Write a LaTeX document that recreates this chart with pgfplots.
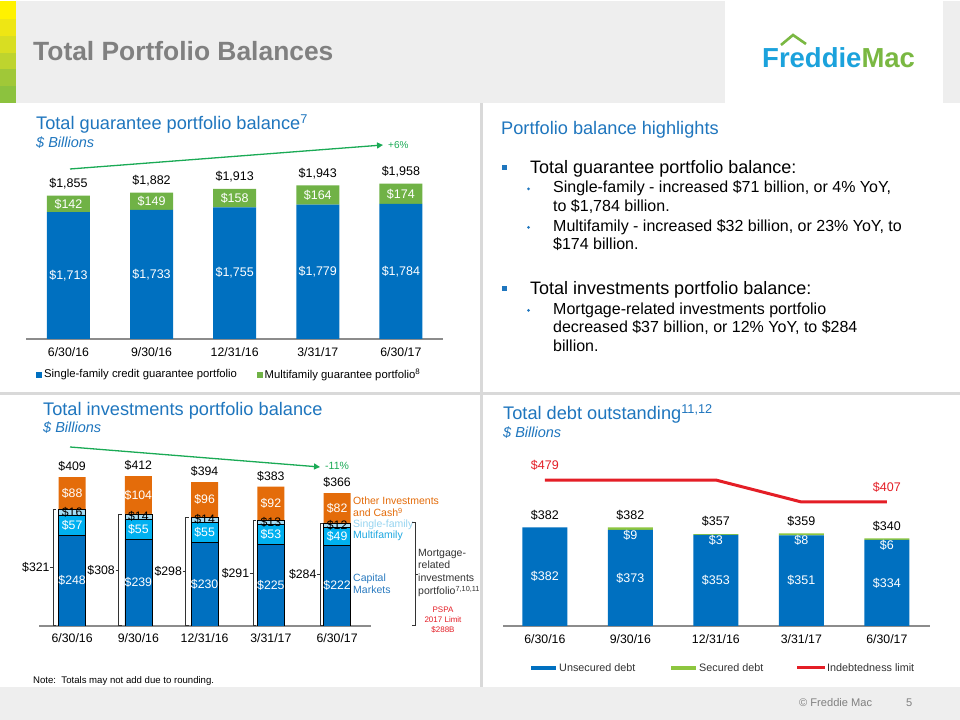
\documentclass[border=0pt]{standalone}
\usepackage{pgfplots}
\pgfplotsset{compat=1.18}
\usepackage{fontspec}
\setmainfont{Liberation Sans}
\usetikzlibrary{arrows.meta}
\definecolor{fmblue}{RGB}{0,112,192}
\definecolor{fmgreen}{RGB}{112,178,70}
\definecolor{ltblue}{RGB}{0,176,240}
\definecolor{paleblue}{RGB}{166,220,244}
\definecolor{fmorange}{RGB}{228,108,10}
\definecolor{titleblue}{RGB}{31,118,190}
\definecolor{hdrgray}{RGB}{238,238,238}
\definecolor{divgray}{RGB}{217,217,217}
\definecolor{arrowgreen}{RGB}{26,170,85}
\definecolor{limred}{RGB}{228,30,38}
\definecolor{secgreen}{RGB}{141,198,63}
\definecolor{logoblue}{RGB}{27,162,220}
\definecolor{logogreen}{RGB}{122,184,66}
\definecolor{sfblue}{RGB}{150,212,240}
\definecolor{mfblue}{RGB}{30,168,225}
\definecolor{cmblue}{RGB}{43,123,192}
\definecolor{titlegray}{RGB}{128,128,128}
\definecolor{strA}{RGB}{255,242,0}
\definecolor{strB}{RGB}{238,230,20}
\definecolor{strC}{RGB}{216,222,34}
\definecolor{strD}{RGB}{190,212,46}
\definecolor{strE}{RGB}{160,200,56}
\definecolor{strF}{RGB}{140,194,62}
\newcommand{\fs}[2]{\fontsize{#1bp}{#2bp}\selectfont}
\pgfplotsset{
  tlgeom/.style={at={(26bp,381bp)}, anchor=south west, scale only axis, width=417bp, height=169.5bp,
    xmin=-0.511, xmax=4.507, ymin=625, ymax=2080},
  blgeom/.style={at={(39bp,94bp)}, anchor=south west, scale only axis, width=331.9bp, height=156.5bp,
    xmin=-0.5, xmax=4.51, ymin=0, ymax=430},
  brgeom/.style={at={(503bp,94bp)}, anchor=south west, scale only axis, width=426.6bp, height=154.8bp,
    xmin=-0.49, xmax=4.5, ymin=0, ymax=600},
  overlay axis/.style={hide axis, clip=false},
}

\begin{document}
\begin{tikzpicture}
\begin{scope}[x=1bp,y=1bp]
\useasboundingbox (0,0) rectangle (960,720);
\fill[white] (0,0) rectangle (960,720);
% header
\fill[hdrgray] (0,617) rectangle (960,718.5);
\fill[white] (725,617) rectangle (943,720);
\fill[strA] (0,701) rectangle (16,718.5);
\fill[strB] (0,684) rectangle (16,701);
\fill[strC] (0,667) rectangle (16,684);
\fill[strD] (0,651) rectangle (16,667);
\fill[strE] (0,634) rectangle (16,651);
\fill[strF] (0,617) rectangle (16,634);
\node[anchor=base west, text=titlegray, font=\fs{26.4}{30}\bfseries, inner sep=0pt] at (33,659) {Total Portfolio Balances};
% logo
\node[anchor=base west, font=\fs{27.5}{30}\bfseries, inner sep=0pt] at (762,652) {\textcolor{logoblue}{Freddie}\textcolor{logogreen}{Mac}};
\draw[logogreen, line width=2.6bp, line join=miter] (781,675) -- (793,685) -- (806,676);
% dividers
\fill[divgray] (0,325) rectangle (960,328);
\fill[divgray] (480,33) rectangle (483,617);
% footer
\fill[hdrgray] (0,0) rectangle (960,33);
\node[anchor=base west, text=titlegray, font=\fs{11.1}{13}, inner sep=0pt] at (799,13) {\textcopyright\ Freddie Mac};
\node[anchor=base west, text=titlegray, font=\fs{11.1}{13}, inner sep=0pt] at (906,13) {5};
\node[anchor=base west, font=\fs{9.6}{11}, inner sep=0pt] at (33,36) {Note:\ \ Totals may not add due to rounding.};

% top-left titles
\node[anchor=base west, text=titleblue, font=\fs{18.2}{20}, inner sep=0pt] at (36,590) {Total guarantee portfolio balance\textsuperscript{7}};
\node[anchor=base west, text=titleblue, font=\fs{14.5}{16}\itshape, inner sep=0pt] at (36,572) {\$ Billions};
\draw[arrowgreen, line width=1.3bp, -{Triangle[length=6bp,width=6bp]}] (70,551) -- (383,575);
\node[anchor=west, text=arrowgreen, font=\fs{10}{12}, inner sep=0pt] at (388,575) {+6\%};
% top-left legend
\fill[fmblue] (36,342) rectangle (42,348);
\node[anchor=west, font=\fs{11.3}{13}, inner sep=0pt] at (44,345) {Single-family credit guarantee portfolio};
\fill[fmgreen] (257,342) rectangle (263,348);
\node[anchor=west, font=\fs{11.3}{13}, inner sep=0pt] at (264.5,345) {Multifamily guarantee portfolio\textsuperscript{8}};

% top-right text
\node[anchor=base west, text=titleblue, font=\fs{18.2}{20}, inner sep=0pt] at (501,585) {Portfolio balance highlights};
\fill[titleblue] (502,549.5) rectangle (507,554.5);
\node[anchor=base west, font=\fs{18}{20}, inner sep=0pt] at (530,546) {Total guarantee portfolio balance:};
\fill[titleblue] (528.5,531) circle (1.5);
\node[anchor=base west, font=\fs{16}{18}, inner sep=0pt] at (553,527) {Single-family - increased \$71 billion, or 4\% YoY,};
\node[anchor=base west, font=\fs{16}{18}, inner sep=0pt] at (553,508) {to \$1,784 billion.};
\fill[titleblue] (528.5,492.5) circle (1.5);
\node[anchor=base west, font=\fs{16}{18}, inner sep=0pt] at (553,488) {Multifamily - increased \$32 billion, or 23\% YoY, to};
\node[anchor=base west, font=\fs{16}{18}, inner sep=0pt] at (553,470) {\$174 billion.};
\fill[titleblue] (502,428.5) rectangle (507,433.5);
\node[anchor=base west, font=\fs{18}{20}, inner sep=0pt] at (530,425) {Total investments portfolio balance:};
\fill[titleblue] (528.5,409.5) circle (1.5);
\node[anchor=base west, font=\fs{16}{18}, inner sep=0pt] at (553,405) {Mortgage-related investments portfolio};
\node[anchor=base west, font=\fs{16}{18}, inner sep=0pt] at (553,387) {decreased \$37 billion, or 12\% YoY, to \$284};
\node[anchor=base west, font=\fs{16}{18}, inner sep=0pt] at (553,368) {billion.};

% bottom-left titles
\node[anchor=base west, text=titleblue, font=\fs{18.2}{20}, inner sep=0pt] at (43,304) {Total investments portfolio balance};
\node[anchor=base west, text=titleblue, font=\fs{14.5}{16}\itshape, inner sep=0pt] at (43,287) {\$ Billions};
\draw[arrowgreen, line width=1.3bp, -{Triangle[length=6bp,width=6bp]}] (70,273) -- (320,253);
\node[anchor=west, text=arrowgreen, font=\fs{10.5}{12}, inner sep=0pt] at (325,254) {-11\%};
% bottom-left annotations
\node[anchor=base west, text=fmorange, font=\fs{10.5}{12}, inner sep=0pt] at (353,215) {Other\ Investments};
\node[anchor=base west, text=fmorange, font=\fs{10.5}{12}, inner sep=0pt] at (353,203) {and Cash\textsuperscript{9}};
\node[anchor=base west, text=sfblue, font=\fs{10.5}{12}, inner sep=0pt] at (353,192) {Single-family};
\node[anchor=base west, text=mfblue, font=\fs{10.5}{12}, inner sep=0pt] at (353,181) {Multifamily};
\node[anchor=base west, text=cmblue, font=\fs{10.5}{12}, inner sep=0pt] at (353,138) {Capital};
\node[anchor=base west, text=cmblue, font=\fs{10.5}{12}, inner sep=0pt] at (353,126) {Markets};
\node[anchor=base west, text=black!80, font=\fs{10.5}{12}, inner sep=0pt] at (418,163) {Mortgage-};
\node[anchor=base west, text=black!80, font=\fs{10.5}{12}, inner sep=0pt] at (418,151) {related};
\node[anchor=base west, text=black!80, font=\fs{10.5}{12}, inner sep=0pt] at (418,138) {investments};
\node[anchor=base west, text=black!80, font=\fs{10.5}{12}, inner sep=0pt] at (418,125) {portfolio\textsuperscript{7,10,11}};
\node[anchor=base, text=limred, font=\fs{8}{9}, inner sep=0pt] at (443,107) {PSPA};
\node[anchor=base, text=limred, font=\fs{8}{9}, inner sep=0pt] at (443,97) {2017 Limit};
\node[anchor=base, text=limred, font=\fs{8}{9}, inner sep=0pt] at (443,87) {\$288B};

% bottom-right titles
\node[anchor=base west, text=titleblue, font=\fs{18.2}{20}, inner sep=0pt] at (503,300) {Total debt outstanding\textsuperscript{11,12}};
\node[anchor=base west, text=titleblue, font=\fs{14.5}{16}\itshape, inner sep=0pt] at (503,282) {\$ Billions};
% bottom-right legend
\fill[fmblue] (531,50) rectangle (556,54);
\node[anchor=west, text=black!80, font=\fs{10.8}{12}, inner sep=0pt] at (559,52) {Unsecured debt};
\fill[secgreen] (671,50) rectangle (696,54);
\node[anchor=west, text=black!80, font=\fs{10.8}{12}, inner sep=0pt] at (699,52) {Secured debt};
\draw[limred, line width=3bp] (797,52) -- (825,52);
\node[anchor=west, text=black!80, font=\fs{10.8}{12}, inner sep=0pt] at (827,52) {Indebtedness limit};
\end{scope}

% ---------------- top-left chart ----------------
\begin{axis}[
  tlgeom,
  ybar stacked, bar width=43bp,
  axis y line=none, axis x line*=bottom,
  x axis line style={draw=black!45, line width=1.1bp, -},
  xtick=data, xticklabels={6/30/16,9/30/16,12/31/16,3/31/17,6/30/17},
  major tick length=0pt,
  xticklabel style={font=\fs{12.3}{14}, yshift=-5bp},
]
\addplot[fill=fmblue, draw=none] coordinates {(0,1713)(1,1733)(2,1755)(3,1779)(4,1784)};
\addplot[fill=fmgreen, draw=none] coordinates {(0,142)(1,149)(2,158)(3,164)(4,174)};
\end{axis}
\begin{axis}[tlgeom, overlay axis]
\node[anchor=base, font=\fs{12.5}{14}, yshift=8bp] at (axis cs:0,1855) {\$1,855};
\node[anchor=base, font=\fs{12.5}{14}, yshift=8bp] at (axis cs:1,1882) {\$1,882};
\node[anchor=base, font=\fs{12.5}{14}, yshift=8bp] at (axis cs:2,1913) {\$1,913};
\node[anchor=base, font=\fs{12.5}{14}, yshift=8bp] at (axis cs:3,1943) {\$1,943};
\node[anchor=base, font=\fs{12.5}{14}, yshift=8bp] at (axis cs:4,1958) {\$1,958};
\node[text=white, font=\fs{12.5}{14}] at (axis cs:0,1784) {\$142};
\node[text=white, font=\fs{12.5}{14}] at (axis cs:1,1807.5) {\$149};
\node[text=white, font=\fs{12.5}{14}] at (axis cs:2,1834) {\$158};
\node[text=white, font=\fs{12.5}{14}] at (axis cs:3,1861) {\$164};
\node[text=white, font=\fs{12.5}{14}] at (axis cs:4,1871) {\$174};
\node[text=white, font=\fs{12.5}{14}] at (axis cs:0,1169) {\$1,713};
\node[text=white, font=\fs{12.5}{14}] at (axis cs:1,1179) {\$1,733};
\node[text=white, font=\fs{12.5}{14}] at (axis cs:2,1190) {\$1,755};
\node[text=white, font=\fs{12.5}{14}] at (axis cs:3,1202) {\$1,779};
\node[text=white, font=\fs{12.5}{14}] at (axis cs:4,1204) {\$1,784};
\end{axis}

% ---------------- bottom-left chart ----------------
\begin{axis}[
  blgeom,
  ybar stacked, bar width=27bp,
  axis y line=none, axis x line*=bottom,
  x axis line style={draw=black!45, line width=1.1bp, -},
  xtick=data, xticklabels={6/30/16,9/30/16,12/31/16,3/31/17,6/30/17},
  major tick length=0pt,
  xticklabel style={font=\fs{12.3}{14}, yshift=-4bp},
]
\addplot[fill=fmblue, draw=black, line width=0.7bp] coordinates {(0,248)(1,239)(2,230)(3,225)(4,222)};
\addplot[fill=ltblue, draw=black, line width=0.7bp] coordinates {(0,57)(1,55)(2,55)(3,53)(4,49)};
\addplot[fill=paleblue, draw=black, line width=0.7bp] coordinates {(0,16)(1,14)(2,14)(3,13)(4,12)};
\addplot[fill=fmorange, draw=none] coordinates {(0,88)(1,104)(2,96)(3,92)(4,82)};
\end{axis}
\begin{axis}[blgeom, overlay axis]
% totals
\node[anchor=base, font=\fs{12.3}{14}, yshift=6.5bp] at (axis cs:0,409) {\$409};
\node[anchor=base, font=\fs{12.3}{14}, yshift=6.5bp] at (axis cs:1,412) {\$412};
\node[anchor=base, font=\fs{12.3}{14}, yshift=6.5bp] at (axis cs:2,395) {\$394};
\node[anchor=base, font=\fs{12.3}{14}, yshift=6.5bp] at (axis cs:3,383) {\$383};
\node[anchor=base, font=\fs{12.3}{14}, yshift=6.5bp] at (axis cs:4,365) {\$366};
% other
\node[text=white, font=\fs{12.3}{14}] at (axis cs:0,365) {\$88};
\node[text=white, font=\fs{12.3}{14}] at (axis cs:1,360) {\$104};
\node[text=white, font=\fs{12.3}{14}] at (axis cs:2,347) {\$96};
\node[text=white, font=\fs{12.3}{14}] at (axis cs:3,337) {\$92};
\node[text=white, font=\fs{12.3}{14}] at (axis cs:4,324) {\$82};
% single-family
\node[font=\fs{12.3}{14}] at (axis cs:0,313) {\$16};
\node[font=\fs{12.3}{14}] at (axis cs:1,301) {\$14};
\node[font=\fs{12.3}{14}] at (axis cs:2,292) {\$14};
\node[font=\fs{12.3}{14}] at (axis cs:3,284.5) {\$13};
\node[font=\fs{12.3}{14}] at (axis cs:4,277) {\$12};
% multifamily
\node[text=white, font=\fs{12.3}{14}] at (axis cs:0,276.5) {\$57};
\node[text=white, font=\fs{12.3}{14}] at (axis cs:1,266.5) {\$55};
\node[text=white, font=\fs{12.3}{14}] at (axis cs:2,257.5) {\$55};
\node[text=white, font=\fs{12.3}{14}] at (axis cs:3,251.5) {\$53};
\node[text=white, font=\fs{12.3}{14}] at (axis cs:4,246.5) {\$49};
% capital markets
\node[text=white, font=\fs{12.3}{14}] at (axis cs:0,124) {\$248};
\node[text=white, font=\fs{12.3}{14}] at (axis cs:1,119.5) {\$239};
\node[text=white, font=\fs{12.3}{14}] at (axis cs:2,115) {\$230};
\node[text=white, font=\fs{12.3}{14}] at (axis cs:3,112.5) {\$225};
\node[text=white, font=\fs{12.3}{14}] at (axis cs:4,111) {\$222};
% left brackets
\draw[black!80, line width=0.6bp] ([xshift=3bp]axis cs:-0.285,321) -- (axis cs:-0.285,321) -- (axis cs:-0.285,2) -- ([xshift=3bp]axis cs:-0.285,2);
\draw[black!80, line width=0.6bp] ([xshift=-3bp]axis cs:-0.285,160.5) -- (axis cs:-0.285,160.5);
\node[anchor=east, font=\fs{12.3}{14}, inner sep=0pt, xshift=-3.5bp] at (axis cs:-0.285,160.5) {\$321};
\draw[black!80, line width=0.6bp] ([xshift=3bp]axis cs:0.7,308) -- (axis cs:0.7,308) -- (axis cs:0.7,2) -- ([xshift=3bp]axis cs:0.7,2);
\draw[black!80, line width=0.6bp] ([xshift=-3bp]axis cs:0.7,154) -- (axis cs:0.7,154);
\node[anchor=east, font=\fs{12.3}{14}, inner sep=0pt, xshift=-3.5bp] at (axis cs:0.7,154) {\$308};
\draw[black!80, line width=0.6bp] ([xshift=3bp]axis cs:1.713,299) -- (axis cs:1.713,299) -- (axis cs:1.713,2) -- ([xshift=3bp]axis cs:1.713,2);
\draw[black!80, line width=0.6bp] ([xshift=-3bp]axis cs:1.713,149) -- (axis cs:1.713,149);
\node[anchor=east, font=\fs{12.3}{14}, inner sep=0pt, xshift=-3.5bp] at (axis cs:1.713,149) {\$298};
\draw[black!80, line width=0.6bp] ([xshift=3bp]axis cs:2.728,291) -- (axis cs:2.728,291) -- (axis cs:2.728,2) -- ([xshift=3bp]axis cs:2.728,2);
\draw[black!80, line width=0.6bp] ([xshift=-3bp]axis cs:2.728,145.5) -- (axis cs:2.728,145.5);
\node[anchor=east, font=\fs{12.3}{14}, inner sep=0pt, xshift=-3.5bp] at (axis cs:2.728,145.5) {\$291};
\draw[black!80, line width=0.6bp] ([xshift=3bp]axis cs:3.743,283) -- (axis cs:3.743,283) -- (axis cs:3.743,2) -- ([xshift=3bp]axis cs:3.743,2);
\draw[black!80, line width=0.6bp] ([xshift=-3bp]axis cs:3.743,141.5) -- (axis cs:3.743,141.5);
\node[anchor=east, font=\fs{12.3}{14}, inner sep=0pt, xshift=-3.5bp] at (axis cs:3.743,141.5) {\$284};
% right bracket
\draw[black!80, line width=0.6bp] ([xshift=-3bp]axis cs:5.18,284) -- (axis cs:5.18,284) -- (axis cs:5.18,2) -- ([xshift=-3bp]axis cs:5.18,2);
\draw[black!80, line width=0.6bp] ([xshift=3bp]axis cs:5.18,142) -- (axis cs:5.18,142);
\end{axis}

% ---------------- bottom-right chart: bars ----------------
\begin{axis}[
  brgeom,
  ybar stacked, bar width=45bp,
  axis y line=none, axis x line*=bottom,
  x axis line style={draw=black!45, line width=1.1bp, -},
  xtick=data, xticklabels={6/30/16,9/30/16,12/31/16,3/31/17,6/30/17},
  major tick length=0pt,
  xticklabel style={font=\fs{12.3}{14}, yshift=-5bp},
]
\addplot[fill=fmblue, draw=none] coordinates {(0,382)(1,373)(2,353)(3,351)(4,334)};
\addplot[fill=secgreen, draw=none] coordinates {(0,0)(1,9)(2,3)(3,8)(4,6)};
\end{axis}
\begin{axis}[brgeom, overlay axis]
\node[anchor=base, font=\fs{12.5}{14}, yshift=8bp] at (axis cs:0,382) {\$382};
\node[anchor=base, font=\fs{12.5}{14}, yshift=8bp] at (axis cs:1,382) {\$382};
\node[anchor=base, font=\fs{12.5}{14}, yshift=8bp] at (axis cs:2,357) {\$357};
\node[anchor=base, font=\fs{12.5}{14}, yshift=8bp] at (axis cs:3,359) {\$359};
\node[anchor=base, font=\fs{12.5}{14}, yshift=8bp] at (axis cs:4,340) {\$340};
\node[text=white, font=\fs{12.5}{14}] at (axis cs:1,352) {\$9};
\node[text=white, font=\fs{12.5}{14}] at (axis cs:2,331) {\$3};
\node[text=white, font=\fs{12.5}{14}] at (axis cs:3,332) {\$8};
\node[text=white, font=\fs{12.5}{14}] at (axis cs:4,314) {\$6};
\node[text=white, font=\fs{12.5}{14}] at (axis cs:0,191) {\$382};
\node[text=white, font=\fs{12.5}{14}] at (axis cs:1,186.5) {\$373};
\node[text=white, font=\fs{12.5}{14}] at (axis cs:2,176.5) {\$353};
\node[text=white, font=\fs{12.5}{14}] at (axis cs:3,175.5) {\$351};
\node[text=white, font=\fs{12.5}{14}] at (axis cs:4,167) {\$334};
\end{axis}

% ---------------- bottom-right chart: limit line ----------------
\begin{axis}[
  at={(503bp,94bp)}, anchor=south west,
  scale only axis, width=426.6bp, height=155.4bp,
  xmin=-0.49, xmax=4.5, ymin=0, ymax=510,
  hide axis, clip=false,
]
\addplot[limred, line width=3bp, no marks] coordinates {(0,479)(1,479)(2,479)(3,407)(4,407)};
\node[text=limred, font=\fs{12.5}{14}, yshift=15bp] at (axis cs:0,479) {\$479};
\node[text=limred, font=\fs{12.5}{14}, yshift=15bp] at (axis cs:4,407) {\$407};
\end{axis}
\end{tikzpicture}
\end{document}
